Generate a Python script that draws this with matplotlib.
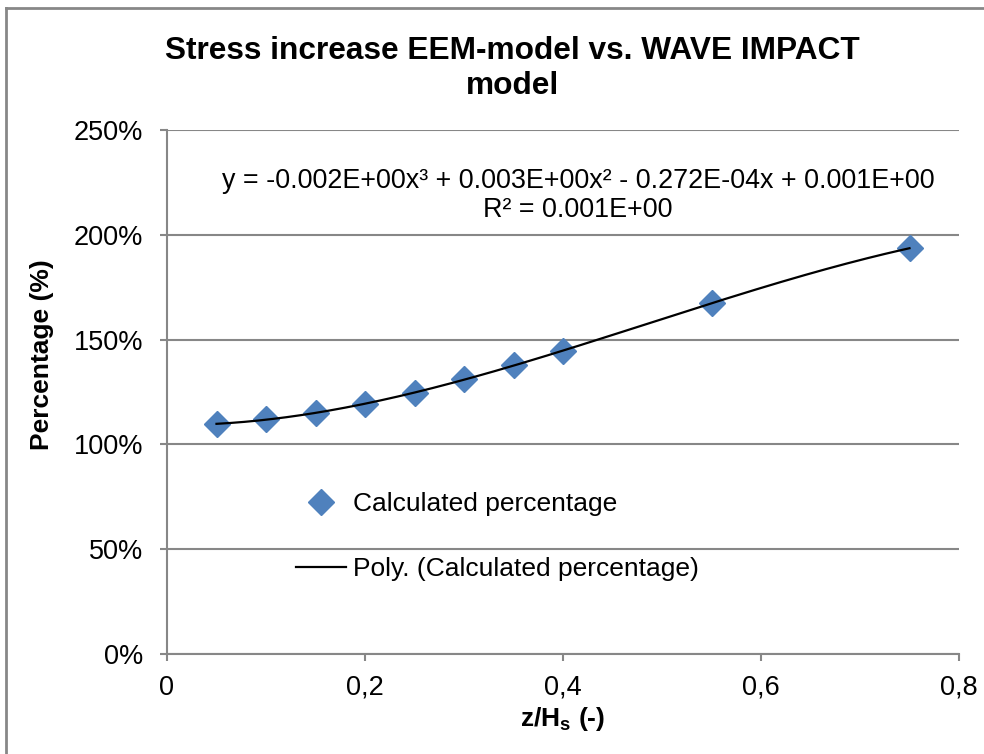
import matplotlib
matplotlib.use("Agg")
import matplotlib.pyplot as plt
from matplotlib.lines import Line2D
from matplotlib.ticker import FuncFormatter
import numpy as np

# relative depth z/Hs and stress increase (%)
z_hs = [0.05, 0.10, 0.15, 0.20, 0.25, 0.30, 0.35, 0.40, 0.55, 0.75]
percentage = [109.7, 112.0, 115.1, 119.3, 124.4, 131.1, 137.7, 144.7, 167.3, 193.6]

x_ticks = [0, 0.2, 0.4, 0.6, 0.8]
y_ticks = [0, 50, 100, 150, 200, 250]

title = "Stress increase EEM-model vs. WAVE IMPACT\nmodel"
equation = ("y = -0.002E+00x\u00b3 + 0.003E+00x\u00b2 - 0.272E-04x + 0.001E+00\n"
            "R\u00b2 = 0.001E+00")

GRID = "#878787"
BLUE = "#4F81BD"


def comma(v, _pos):
    # decimal comma on the x axis
    if v == 0:
        return "0"
    return f"{v:.1f}".replace(".", ",")


def main():
    plt.rcParams["font.family"] = ["Liberation Sans", "DejaVu Sans"]
    plt.rcParams["mathtext.fontset"] = "custom"
    plt.rcParams["mathtext.rm"] = "Liberation Sans"
    plt.rcParams["mathtext.bf"] = "Liberation Sans:bold"

    fig = plt.figure(figsize=(9.84, 7.54), dpi=100)
    ax = fig.add_axes([167 / 984, 100 / 754, 792 / 984, 524 / 754])

    # cubic trendline through the points
    coef = np.polyfit(z_hs, percentage, 3)
    xs = np.linspace(min(z_hs), max(z_hs), 200)
    ax.plot(xs, np.polyval(coef, xs), color="black", lw=1.6,
            label="Poly. (Calculated percentage)", zorder=4)
    ax.plot(z_hs, percentage, linestyle="none", marker="D", ms=13,
            color=BLUE, mec=BLUE, label="Calculated percentage", zorder=3)

    ax.set_xlim(0, 0.8)
    ax.set_ylim(0, 250)
    ax.set_xticks(x_ticks)
    ax.set_yticks(y_ticks)
    ax.xaxis.set_major_formatter(FuncFormatter(comma))
    ax.yaxis.set_major_formatter(FuncFormatter(lambda v, p: f"{v:.0f}%"))
    ax.yaxis.grid(True, color=GRID, lw=1.5)
    ax.set_axisbelow(True)

    for s in ["top", "right"]:
        ax.spines[s].set_visible(False)
    for s in ["left", "bottom"]:
        ax.spines[s].set_color(GRID)
        ax.spines[s].set_linewidth(1.5)
    ax.tick_params(axis="both", colors=GRID, labelcolor="black",
                   labelsize=19.5, length=5, width=1.5, direction="out")
    ax.tick_params(axis="y", pad=12)
    ax.tick_params(axis="x", pad=10)

    ax.set_xlabel(r"z/H$_\mathbf{s}$ (-)", fontsize=19, fontweight="bold")
    ax.set_ylabel("Percentage (%)", fontsize=19, fontweight="bold")
    ax.xaxis.set_label_coords(0.5, -0.097)
    ax.yaxis.set_label_coords(-0.143, 0.571)

    ax.text(0.519, 0.875, equation, transform=ax.transAxes, ha="center",
            va="center", fontsize=19.4, linespacing=1.13)

    handles, labels = ax.get_legend_handles_labels()
    ax.legend(handles[::-1], labels[::-1], loc="upper left",
              bbox_to_anchor=(0.163, 0.309), frameon=False, fontsize=19,
              borderpad=0, borderaxespad=0, handlelength=1.9,
              handletextpad=0.25, labelspacing=1.55)

    fig.text(0.521, 0.909, title, ha="center", va="center", fontsize=22.8,
             fontweight="bold", linespacing=1.22)

    # outer chart frame
    fx = 6 / 984
    fy = 1 - 8 / 754
    fig.add_artist(Line2D([fx, fx], [0, fy], color=GRID, lw=2))
    fig.add_artist(Line2D([fx, 1], [fy, fy], color=GRID, lw=2))

    fig.savefig("out.png", dpi=100)


if __name__ == "__main__":
    main()
